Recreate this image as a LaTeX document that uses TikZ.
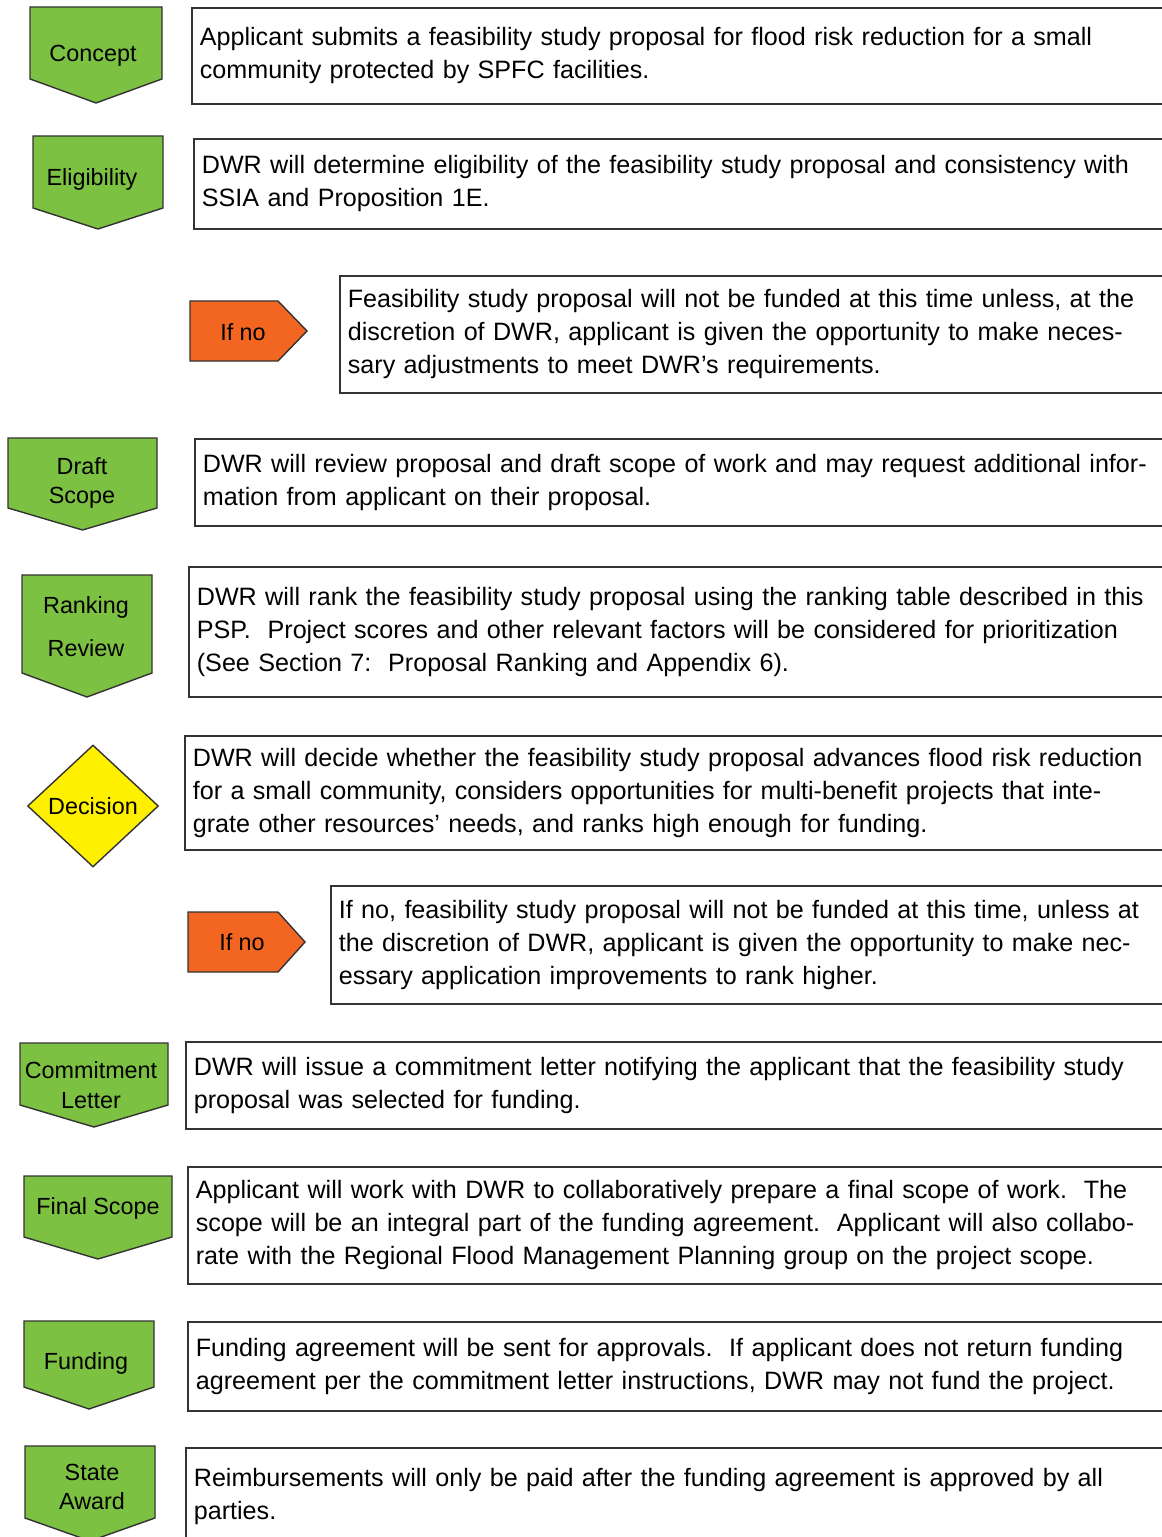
\documentclass[tikz,border=0pt]{standalone}
\usepackage{fontspec}
\setmainfont{Liberation Sans}
\usepackage{xcolor}
\usepackage{tikz}
\usetikzlibrary{shapes,positioning}

\definecolor{stepgreen}{RGB}{125,193,66}
\definecolor{noorange}{RGB}{242,102,34}
\definecolor{decisionyellow}{RGB}{255,240,0}
\definecolor{edgegray}{RGB}{51,51,51}

% green step arrow pointing down: left, right, top, bottom of sides, tip
\newcommand{\steparrow}[5]{%
  \draw[arrowshape] (#1,#3) -- (#2,#3) -- (#2,#4) -- ({(#1+#2)/2},#5) -- (#1,#4) -- cycle;}

% orange arrow pointing right: left, right, tip, top, bottom
\newcommand{\noarrow}[5]{%
  \draw[noshape] (#1,#4) -- (#2,#4) -- (#3,{(#4+#5)/2}) -- (#2,#5) -- (#1,#5) -- cycle;}

\begin{document}
\begin{tikzpicture}[x=0.02cm, y=-0.02cm,
    arrowshape/.style={draw=edgegray, line width=0.8pt, fill=stepgreen},
    noshape/.style={draw=edgegray, line width=0.8pt, fill=noorange},
    steplabel/.style={font=\fontsize{13.3}{17}\selectfont, align=center, inner sep=0pt},
    infobox/.style={draw=edgegray, line width=1pt, anchor=north west, align=left,
      inner xsep=0.16cm, inner ysep=0pt, font=\fontsize{14.3}{18.8}\selectfont}]
  \useasboundingbox (0,0) rectangle (1162,1537);

  % the step arrows on the left
  \steparrow{30}{162}{7}{79}{103}
  \steparrow{33}{163}{136}{208}{229}
  \steparrow{8}{157}{438}{508}{530}
  \steparrow{22}{152}{575}{673}{697}
  \steparrow{20}{168}{1043}{1105}{1127}
  \steparrow{24}{172}{1176}{1237}{1259}
  \steparrow{24}{154}{1321}{1387}{1409}
  \steparrow{25}{155}{1446}{1518}{1541}

  % the "if no" arrows
  \noarrow{190}{278}{307}{301}{361}
  \noarrow{188}{278}{305}{912}{972}

  % the labels
  \node[steplabel] (concept) at (93,56) {Concept};
  \node[steplabel] (eligibility) at (92,179) {Eligibility};
  \node[steplabel] (ifnoone) at (243,332) {If no};
  \node[steplabel] (draftscope) at (82,483) {Draft\\Scope};
  \node[steplabel] (ranking) at (86,627) {Ranking\\[7.4pt]Review};
  \node[steplabel, diamond, draw=edgegray, line width=0.8pt, fill=decisionyellow,
    minimum width=2.62cm, minimum height=2.44cm] (decision) at (93,806) {Decision};
  \node[steplabel] (ifnotwo) at (242,942) {If no};
  \node[steplabel] (commitment) at (91,1085) {Commitment\\Letter};
  \node[steplabel] (finalscope) at (98,1208) {Final Scope};
  \node[steplabel] (funding) at (86,1363) {Funding};
  \node[steplabel] (stateaward) at (92,1487) {State\\Award};

  % the text boxes
  \node[infobox, text width=19.36cm, minimum height=1.92cm] (conceptbox) at (191,7)
    {Applicant submits a feasibility study proposal for flood risk reduction for a small\\
     community protected by SPFC facilities.};
  \node[infobox, text width=19.32cm, minimum height=1.80cm] (eligibilitybox) at (193,138)
    {DWR will determine eligibility of the feasibility study proposal and consistency with\\
     SSIA and Proposition 1E.};
  \node[infobox, text width=16.40cm, minimum height=2.34cm] (ifnoonebox) at (339,275)
    {Feasibility study proposal will not be funded at this time unless, at the\\
     discretion of DWR, applicant is given the opportunity to make neces-\\
     sary adjustments to meet DWR’s requirements.};
  \node[infobox, text width=19.30cm, minimum height=1.74cm] (draftscopebox) at (194,438)
    {DWR will review proposal and draft scope of work and may request additional infor-\\
     mation from applicant on their proposal.};
  \node[infobox, text width=19.42cm, minimum height=2.60cm] (rankingbox) at (188,566)
    {DWR will rank the feasibility study proposal using the ranking table described in this\\
     PSP.\ \ Project scores and other relevant factors will be considered for prioritization\\
     (See Section 7:\ \ Proposal Ranking and Appendix 6).};
  \node[infobox, text width=19.50cm, minimum height=2.28cm] (decisionbox) at (184,735)
    {DWR will decide whether the feasibility study proposal advances flood risk reduction\\
     for a small community, considers opportunities for multi-benefit projects that inte-\\
     grate other resources’ needs, and ranks high enough for funding.};
  \node[infobox, text width=16.58cm, minimum height=2.36cm] (ifnotwobox) at (330,885)
    {If no, feasibility study proposal will not be funded at this time, unless at\\
     the discretion of DWR, applicant is given the opportunity to make nec-\\
     essary application improvements to rank higher.};
  \node[infobox, text width=19.48cm, minimum height=1.74cm] (commitmentbox) at (185,1041)
    {DWR will issue a commitment letter notifying the applicant that the feasibility study\\
     proposal was selected for funding.};
  \node[infobox, text width=19.44cm, minimum height=2.34cm] (finalscopebox) at (187,1166)
    {Applicant will work with DWR to collaboratively prepare a final scope of work.\ \ The\\
     scope will be an integral part of the funding agreement.\ \ Applicant will also collabo-\\
     rate with the Regional Flood Management Planning group on the project scope.};
  \node[infobox, text width=19.44cm, minimum height=1.78cm] (fundingbox) at (187,1321)
    {Funding agreement will be sent for approvals.\ \ If applicant does not return funding\\
     agreement per the commitment letter instructions, DWR may not fund the project.};
  \node[infobox, text width=19.48cm, minimum height=1.96cm] (stateawardbox) at (185,1447)
    {Reimbursements will only be paid after the funding agreement is approved by all\\
     parties.};
\end{tikzpicture}
\end{document}
